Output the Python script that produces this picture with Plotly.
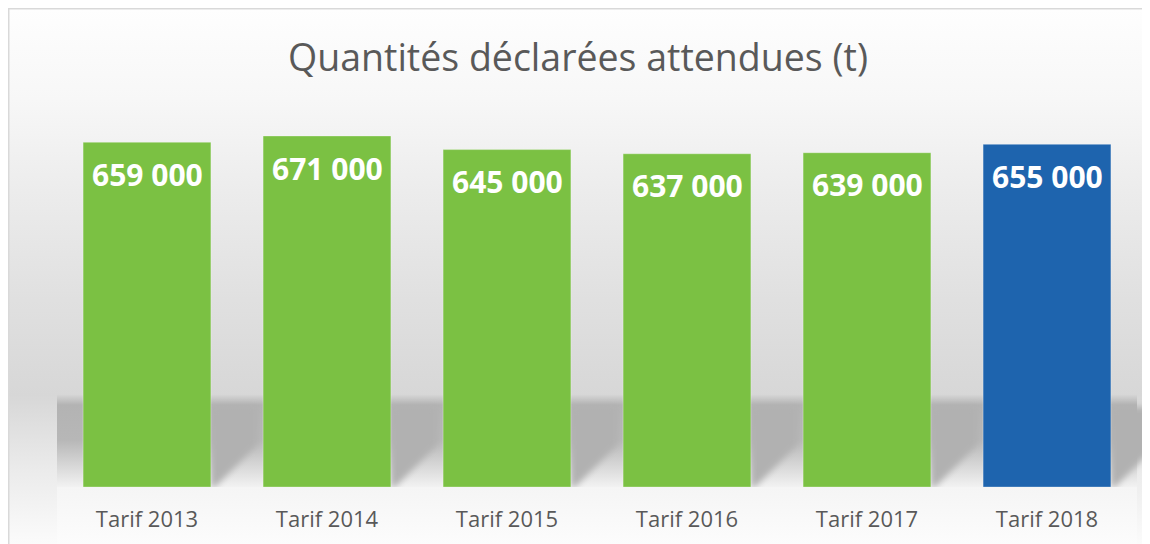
import base64
import plotly.graph_objects as go

categories = ["Tarif 2013", "Tarif 2014", "Tarif 2015", "Tarif 2016", "Tarif 2017", "Tarif 2018"]
values = [659000, 671000, 645000, 637000, 639000, 655000]
labels = ["659 000", "671 000", "645 000", "637 000", "639 000", "655 000"]
bar_colors = ["#7bc143", "#7bc143", "#7bc143", "#7bc143", "#7bc143", "#1e64ae"]

# the page body has an 8px margin, so the figure is drawn 8px in from the window corner
OFF = 8
W, H = 1150 - OFF, 544 - OFF
ML, MR = 57 - OFF, 13
MT = 100 - OFF
base_y = 487 - OFF
MB = H - base_y
plot_w = W - ML - MR
n = len(categories)
slot = plot_w / n
bar_frac = 0.71

def py(page_y):
    return page_y - OFF

# decorative background (wall gradient, floor band with soft shadows)
shadow_polys = []
for i in range(n):
    xr = ML + (i + 0.5) * slot + bar_frac * slot / 2
    shadow_polys.append(
        f'<polygon points="{xr:.1f},{base_y-80} {xr+46:.1f},{base_y-80} {xr+46:.1f},{base_y-42} '
        f'{xr+4:.1f},{base_y} {xr:.1f},{base_y}" fill="#b1b1b1" filter="url(#bl)"/>'
    )
def st(page_y, col, y0, y1):
    return f'<stop offset="{(py(page_y)-y0)/(y1-y0):.4f}" stop-color="{col}"/>'

wall_y0, wall_y1 = 0, H
floor_y0, floor_y1 = py(394), base_y
svg = f'''<svg xmlns="http://www.w3.org/2000/svg" width="{W}" height="{H}" viewBox="0 0 {W} {H}">
<defs>
<linearGradient id="wall" gradientUnits="userSpaceOnUse" x1="0" y1="{wall_y0}" x2="0" y2="{wall_y1}">
{st(9, "#fefefe", wall_y0, wall_y1)}
{st(100, "#f7f7f7", wall_y0, wall_y1)}
{st(200, "#ebebeb", wall_y0, wall_y1)}
{st(300, "#e0e0e0", wall_y0, wall_y1)}
{st(395, "#d7d7d7", wall_y0, wall_y1)}
{st(470, "#ebebeb", wall_y0, wall_y1)}
{st(544, "#fbfbfb", wall_y0, wall_y1)}
</linearGradient>
<linearGradient id="floor" gradientUnits="userSpaceOnUse" x1="0" y1="{floor_y0}" x2="0" y2="{floor_y1}">
<stop offset="0" stop-color="#d8d8d8"/>
{st(405, "#b3b3b3", floor_y0, floor_y1)}
{st(440, "#b7b7b7", floor_y0, floor_y1)}
<stop offset="1" stop-color="#f2f2f2"/>
</linearGradient>
<linearGradient id="under" x1="0" y1="0" x2="0" y2="1">
<stop offset="0" stop-color="#f5f5f5"/>
<stop offset="1" stop-color="#fcfcfc"/>
</linearGradient>
<filter id="bl" x="-50%" y="-50%" width="200%" height="200%"><feGaussianBlur stdDeviation="3"/></filter>
</defs>
<rect x="0" y="0" width="{W}" height="{H}" fill="url(#wall)"/>
<line x1="0" y1="0.5" x2="{W}" y2="0.5" stroke="#d9d9d9" stroke-width="2"/>
<line x1="0.5" y1="0" x2="0.5" y2="{H}" stroke="#d9d9d9" stroke-width="2"/>
<rect x="{ML}" y="{floor_y0}" width="{plot_w}" height="{floor_y1-floor_y0}" fill="url(#floor)"/>
{''.join(shadow_polys)}
<rect x="{ML}" y="{base_y}" width="{plot_w}" height="{H-base_y}" fill="url(#under)"/>
</svg>'''
bg_src = "data:image/svg+xml;base64," + base64.b64encode(svg.encode()).decode()

fig = go.Figure()
fig.add_trace(go.Bar(
    x=categories, y=values,
    marker=dict(color=bar_colors, line=dict(color="rgba(255,255,255,0.3)", width=1)),
    width=bar_frac, hoverinfo="skip",
))

px_per_val = 351 / 671000
y_max = (base_y - MT) / px_per_val

for c, v, t in zip(categories, values, labels):
    fig.add_annotation(
        x=c, y=v, text=f"<b>{t}</b>", showarrow=False, yanchor="middle", yshift=-32,
        font=dict(family="Open Sans, sans-serif", size=30, color="#ffffff"),
    )

fig.update_layout(
    width=W, height=H,
    margin=dict(l=ML, r=MR, t=MT, b=MB, pad=0),
    paper_bgcolor="#ffffff", plot_bgcolor="rgba(0,0,0,0)",
    showlegend=False,
    title=dict(
        text="Quantités déclarées attendues (t)",
        x=(578 - 57) / 1080, xanchor="center", xref="paper",
        y=1 - py(58) / H, yanchor="middle", yref="container",
        font=dict(family="Open Sans, sans-serif", size=37.5, color="#595959"),
    ),
    xaxis=dict(
        showgrid=False, zeroline=False, showline=False, ticks="",
        tickfont=dict(family="Open Sans, sans-serif", size=22, color="#595959"),
        ticklabelstandoff=17,
    ),
    yaxis=dict(range=[0, y_max], visible=False, showgrid=False, zeroline=False),
    images=[dict(
        source=bg_src, xref="paper", yref="paper", xanchor="left", yanchor="bottom",
        x=-ML / plot_w, y=-MB / (H - MT - MB), sizex=W / plot_w, sizey=H / (H - MT - MB),
        sizing="stretch", layer="below",
    )],
)

fig.write_html(
    "out.html",
    post_script="document.documentElement.style.overflow='hidden';document.body.style.overflow='hidden';",
)
